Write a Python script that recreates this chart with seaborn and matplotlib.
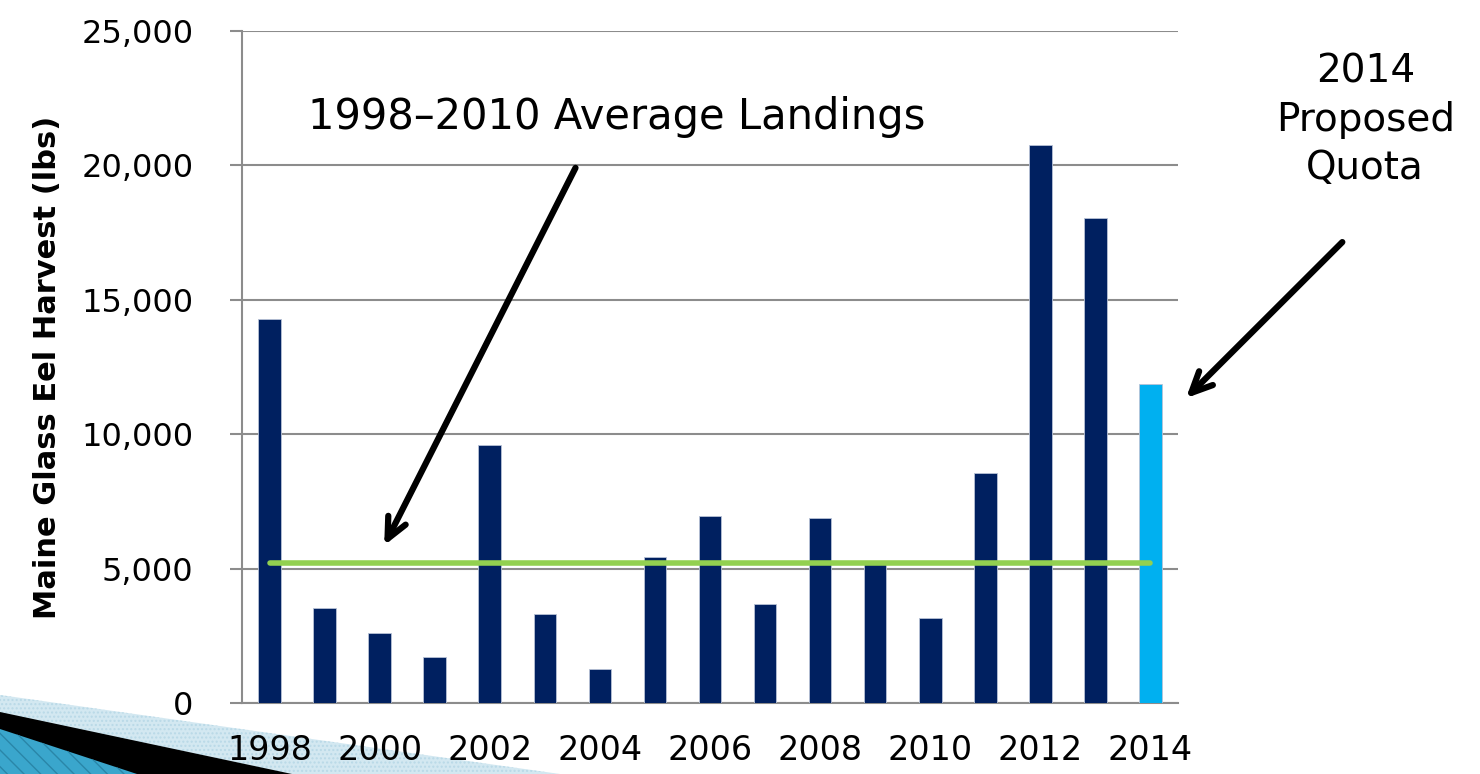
import numpy as np
import pandas as pd
import matplotlib
matplotlib.use("Agg")
import matplotlib.pyplot as plt
import seaborn as sns
from matplotlib.patches import Polygon
from matplotlib.ticker import FuncFormatter

years = list(range(1998, 2015))
harvest = [14300, 3550, 2600, 1700, 9600, 3300, 1260, 5450, 6950, 3700,
           6900, 5200, 3150, 8550, 20750, 18050, 11870]
kinds = ["Landings"] * 16 + ["Proposed quota"]
avg_landings = 5210
avg_label = "1998\u20132010 Average Landings"
quota_label = "2014\nProposed\nQuota"
ylabel = "Maine Glass Eel Harvest (lbs)"

df = pd.DataFrame({"year": years, "harvest": harvest, "kind": kinds})

sns.set_style("white")
plt.rcParams["font.family"] = ["DejaVu Sans"]
plt.rcParams["text.color"] = "black"
plt.rcParams["xtick.color"] = "black"
plt.rcParams["ytick.color"] = "black"
plt.rcParams["axes.labelcolor"] = "black"

fig = plt.figure(figsize=(14.8, 7.74), dpi=100)
ax = fig.add_axes([242 / 1480, 1 - 703 / 774, 936 / 1480, 672 / 774])

# decorative template swoosh in the lower-left corner (figure pixels)
W, H = 1480, 774
def fig_poly(pts, **kw):
    p = Polygon([(x / W, 1 - y / H) for x, y in pts], closed=True,
                transform=fig.transFigure, zorder=-5, **kw)
    fig.patches.append(p)

fig_poly([(0, 695), (560, 774), (0, 774)], facecolor="#d3e8f1",
         edgecolor="#b9d9e7", hatch="....", linewidth=0)
fig_poly([(0, 712), (292, 774), (0, 774)], facecolor="black", edgecolor="none")
fig_poly([(0, 729), (137, 774), (0, 774)], facecolor="#3aa6cc",
         edgecolor="#2a86a8", hatch="\\\\", linewidth=0)

sns.barplot(data=df, x="year", y="harvest", hue="kind",
            palette={"Landings": "#002060", "Proposed quota": "#00b0f0"},
            saturation=1, dodge=False, width=0.41, legend=False, ax=ax,
            edgecolor="#b8c2d6", linewidth=0.6, zorder=3)

# average line across all bars
ax.plot([0, len(years) - 1], [avg_landings, avg_landings], color="#92d050",
        lw=4, solid_capstyle="round", zorder=4)

ax.set_xlim(-0.5, len(years) - 0.5)
ax.set_ylim(0, 25000)
ax.set_yticks(np.arange(0, 25001, 5000))
ax.yaxis.set_major_formatter(FuncFormatter(lambda v, p: f"{int(v):,}"))
ax.grid(axis="y", color="#8c8c8c", lw=1.5, zorder=0)
ax.set_axisbelow(True)

ax.set_xticks(np.arange(0, len(years), 2))
ax.set_xticklabels([str(y) for y in years[::2]])
ax.set_xticks(np.arange(-0.5, len(years), 1), minor=True)
ax.tick_params(axis="x", which="major", length=0, pad=22, labelsize=24)
ax.tick_params(axis="x", which="minor", length=9, width=1.5,
               color="#8c8c8c", direction="out")
ax.tick_params(axis="y", length=9, width=1.5, color="#8c8c8c",
               direction="out", pad=26, labelsize=23, left=True)

for s in ["top", "right"]:
    ax.spines[s].set_visible(False)
for s in ["left", "bottom"]:
    ax.spines[s].set_color("#8c8c8c")
    ax.spines[s].set_linewidth(1.5)

ax.set_xlabel("")
ax.set_ylabel(ylabel, fontsize=22, fontweight="bold", labelpad=14)

arrow = dict(arrowstyle="->,head_length=1.5,head_width=0.7",
             lw=4.5, color="black")

ax.text(6.3, 21800, avg_label, fontsize=30, ha="center", va="center")
ax.annotate("", xy=(2.06, 5770), xytext=(5.58, 20000), arrowprops=arrow)

ax.text(19.9, 21700, quota_label, fontsize=28, ha="center", va="center",
        linespacing=1.35, clip_on=False)
ax.annotate("", xy=(16.61, 11270), xytext=(19.52, 17220),
            arrowprops=arrow, annotation_clip=False)

fig.savefig("out.png", dpi=100)
